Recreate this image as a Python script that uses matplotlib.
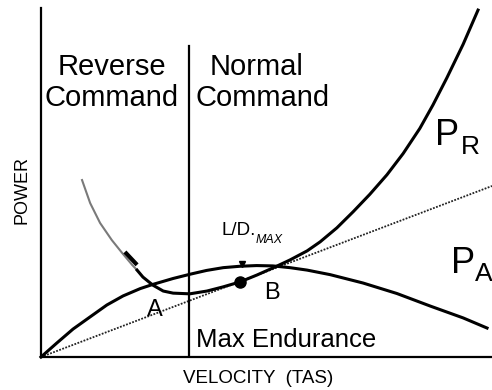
import matplotlib
matplotlib.use('Agg')
import matplotlib.pyplot as plt

plt.rcParams['font.family'] = ['Liberation Sans', 'DejaVu Sans']

# velocity / power in arbitrary units (0-100 on both axes)
pr_faint_v = [9.1, 10.9, 13.1, 15.7, 18.0, 20.2, 21.3]
pr_faint_p = [50.7, 44.1, 38.4, 33.5, 29.8, 26.4, 24.9]

pr_v = [21.3, 22.6, 24.8, 27.1, 29.3, 33.0, 36.8, 40.4, 44.1, 47.9, 51.9,
        55.2, 59.0, 61.9, 65.6, 69.2, 72.9, 76.7, 80.3, 84.0, 86.9, 90.0,
        93.6, 96.9]
pr_p = [24.9, 22.9, 20.6, 18.9, 18.3, 18.1, 18.9, 20.1, 21.5, 23.5, 25.8,
        27.8, 30.4, 33.0, 37.0, 41.6, 46.6, 52.2, 58.3, 65.5, 72.2, 80.0,
        89.6, 99.4]

pa_v = [0, 3.5, 7.1, 10.9, 14.6, 18.2, 22.0, 24.8, 29.3, 33.0, 36.7, 40.4,
        44.1, 47.8, 51.4, 55.2, 59.0, 64.1, 71.4, 78.9, 86.3, 93.6, 98.9]
pa_p = [0, 4.0, 8.0, 11.5, 14.9, 17.5, 19.6, 20.8, 22.5, 23.7, 24.8, 25.6,
        26.0, 26.2, 26.1, 25.6, 24.9, 23.6, 21.2, 18.2, 14.6, 11.2, 8.3]

tangent_v = [0, 100]
tangent_p = [0, 49]

ld_max_v, ld_max_p = 44.1, 21.5
caret_v, caret_p = 44.6, 26.6
mark_v = [18.6, 21.3]
mark_p = [30.1, 26.4]
divide_v = 32.8
divide_top = 89.1

fig = plt.figure(figsize=(4.92, 3.90), dpi=100)
ax = fig.add_axes([41 / 492, 33 / 390, 451 / 492, 349 / 390])
ax.set_xlim(0, 100)
ax.set_ylim(0, 100)
for s in ['top', 'right']:
    ax.spines[s].set_visible(False)
for s in ['left', 'bottom']:
    ax.spines[s].set_linewidth(1.6)
ax.set_xticks([])
ax.set_yticks([])

ax.plot(tangent_v, tangent_p, color='#222222', lw=1.3, ls=(0, (1, 0.8)))
ax.plot(pr_faint_v, pr_faint_p, color='#7a7a7a', lw=1.5)
ax.plot(pr_v, pr_p, color='black', lw=2.2, clip_on=False)
ax.plot(pa_v, pa_p, color='black', lw=2.2, clip_on=False)
ax.plot(mark_v, mark_p, color='black', lw=3.0, solid_capstyle='butt')
ax.plot([divide_v, divide_v], [0, divide_top], color='black', lw=1.6)
ax.plot(ld_max_v, ld_max_p, 'o', color='black', ms=8)
ax.plot(caret_v, caret_p, 'v', color='black', ms=4)

big = 21
ax.text(15.7, 80.8, 'Reverse', ha='center', va='baseline', fontsize=big)
ax.text(15.7, 71.9, 'Command', ha='center', va='baseline', fontsize=big)
ax.text(47.9, 80.8, 'Normal', ha='center', va='baseline', fontsize=big)
ax.text(49.2, 71.9, 'Command', ha='center', va='baseline', fontsize=big)

ax.text(34.4, 2.9, 'Max Endurance', ha='left', va='baseline', fontsize=18.5)
ax.text(25.3, 13.5, 'A', ha='center', va='center', fontsize=17)
ax.text(51.3, 18.2, 'B', ha='center', va='center', fontsize=17)

ax.text(40.1, 35.0, 'L/D.', ha='left', va='baseline', fontsize=13.5)
ax.text(47.5, 32.7, 'MAX', ha='left', va='baseline', fontsize=9,
        style='italic')

ax.text(87.4, 60.7, 'P', ha='left', va='baseline', fontsize=26)
ax.text(93.0, 58.2, 'R', ha='left', va='baseline', fontsize=19)
ax.text(90.9, 24.1, 'P', ha='left', va='baseline', fontsize=26)
ax.text(96.2, 21.8, 'A', ha='left', va='baseline', fontsize=19, clip_on=False)

fig.text(258 / 492, 7 / 390, 'VELOCITY  (TAS)', ha='center', va='baseline',
         fontsize=13.5)
fig.text(22 / 492, 200 / 390, 'POWER', ha='center', va='center',
         rotation=90, fontsize=13)

fig.savefig('out.png', dpi=100)
